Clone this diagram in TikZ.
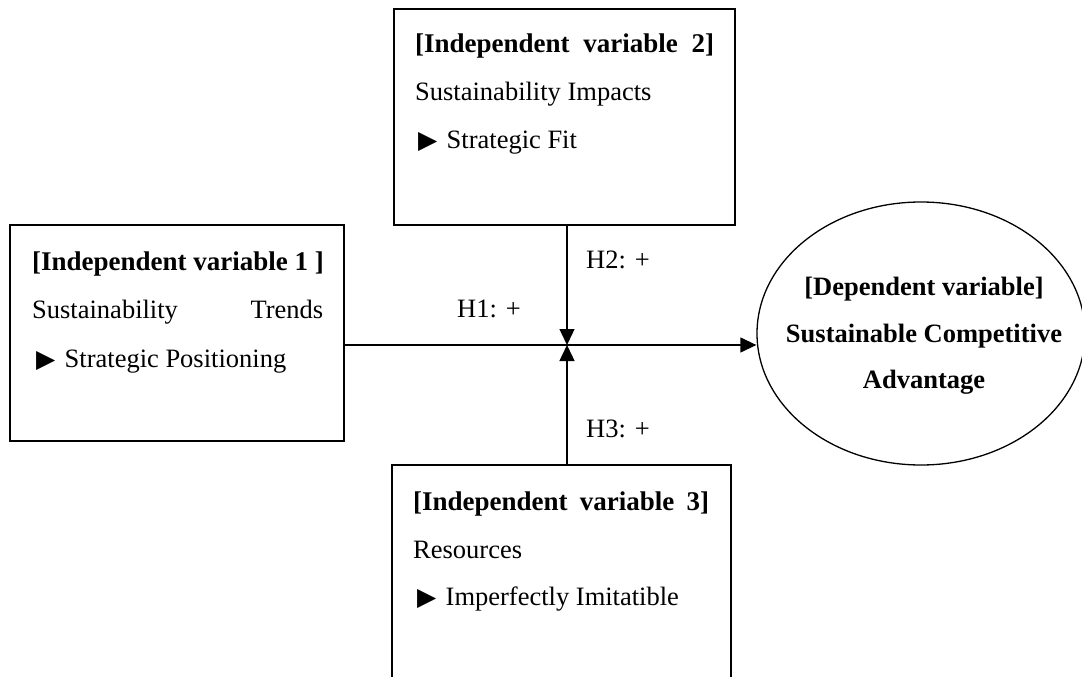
\documentclass[tikz,border=0pt]{standalone}
\usepackage{fontspec}
\setmainfont{Liberation Serif}
\newfontfamily\symfont{DejaVu Sans}
\usetikzlibrary{shapes.geometric,arrows.meta}

\newcommand{\bul}{\makebox[28.5pt][l]{\symfont\fontsize{25}{28}\selectfont ▶}}

\begin{document}
\begin{tikzpicture}[x=1pt,y=-1pt,
  every node/.style={font=\fontsize{26.5}{30}\selectfont, inner sep=0pt},
  box/.style={draw, line width=1.3pt, rectangle, minimum height=216pt},
  oval/.style={draw, line width=1.3pt, ellipse, minimum width=328pt, minimum height=263pt},
  txt/.style={anchor=base west},
  hd/.style={anchor=base west, font=\fontsize{27}{30}\selectfont\bfseries},
  ctr/.style={anchor=base, font=\fontsize{26.5}{30}\selectfont\bfseries},
  arr/.style={line width=1.3pt, -{Triangle[width=15pt,length=16pt]}}]

\clip (0,0) rectangle (1082,677);

% the three independent-variable boxes and the dependent-variable oval
\node[box, minimum width=334pt] (b1) at (177,333) {};
\node[box, minimum width=341pt] (b2) at (564.5,117) {};
\node[box, minimum width=339pt] (b3) at (561.5,573) {};
\node[oval] (ell) at (921,333.5) {};

% box 1
\node[hd] (t1a) at (32,270) {[Independent variable 1 ]};
\node[txt] (t1b) at (32,318) {\makebox[291pt][s]{Sustainability\hfill Trends}};
\node[txt] (t1c) at (36,367) {\bul Strategic Positioning};

% box 2
\node[hd] (t2a) at (415,53) {\makebox[299pt][s]{[Independent\hfill variable\hfill 2]}};
\node[txt] (t2b) at (415,100) {Sustainability Impacts};
\node[txt] (t2c) at (418,148) {\bul Strategic Fit};

% box 3
\node[hd] (t3a) at (413,510) {\makebox[296pt][s]{[Independent\hfill variable\hfill 3]}};
\node[txt] (t3b) at (413,558) {Resources};
\node[txt] (t3c) at (417,605) {\bul Imperfectly Imitatible};

% oval text
\node[ctr] (e1) at (924,295) {[Dependent variable]};
\node[ctr] (e2) at (924,342) {Sustainable Competitive};
\node[ctr] (e3) at (924,388) {Advantage};

% hypothesis labels
\node[txt] (h1) at (457,317) {H1: +};
\node[txt] (h2) at (586,268) {H2: +};
\node[txt] (h3) at (586,437) {H3: +};

% connectors
\coordinate (j) at (567,345);
\draw[arr] (b1.east |- j) -- (j -| ell.west);
\draw[arr] (j |- b2.south) -- (j);
\draw[arr] (j |- b3.north) -- (j);
\end{tikzpicture}
\end{document}
